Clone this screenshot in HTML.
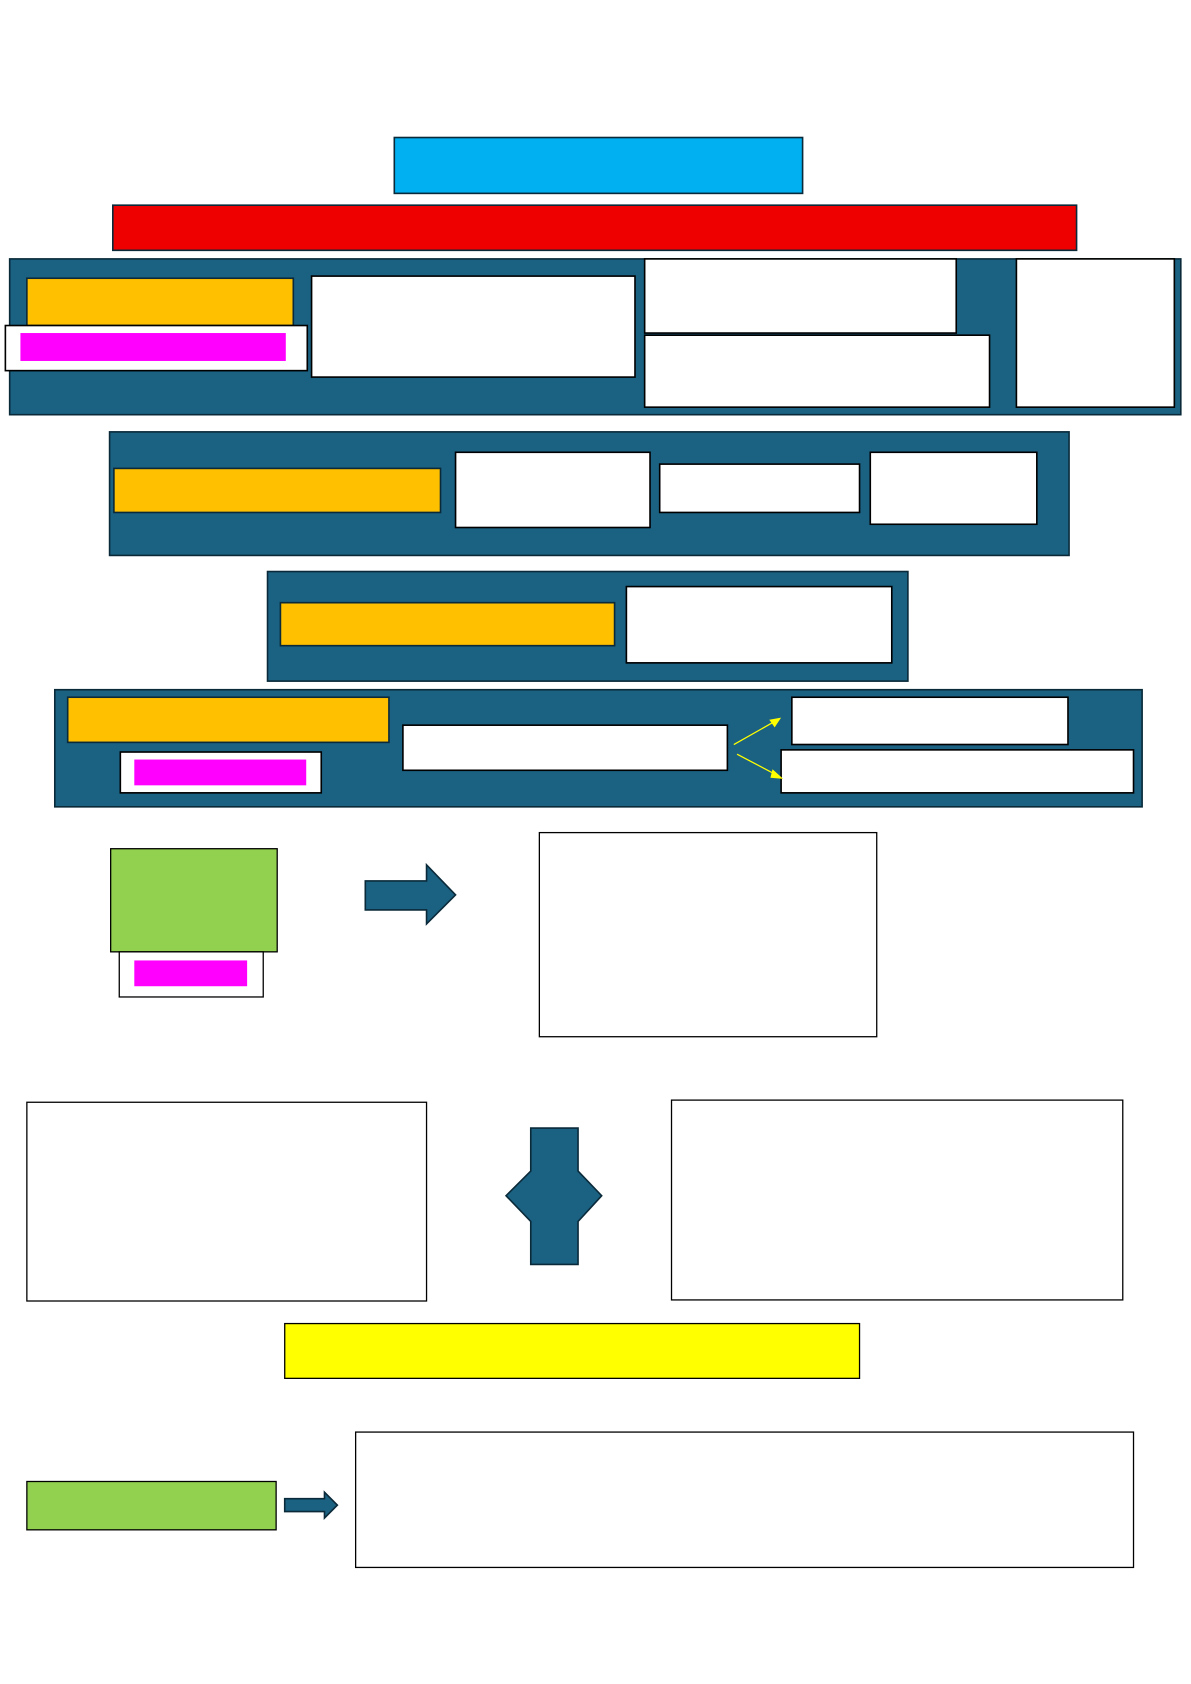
<!DOCTYPE html>
<html><head><style>html,body{margin:0;padding:0;background:#fff}svg{display:block}</style></head><body>
<svg width="1191" height="1684" viewBox="0 0 1108.5 1567.5" preserveAspectRatio="none" xmlns="http://www.w3.org/2000/svg">
<g stroke="#0a2a3a" stroke-width="1.5">
<rect x="367" y="128" width="380" height="52" fill="#00b0f0"/>
<rect x="105" y="191" width="897" height="42" fill="#ee0000"/>

<rect x="9" y="241" width="1090" height="145" fill="#1b6182"/>
<rect x="25" y="259" width="248" height="44" fill="#ffc000"/>
<rect x="5" y="303" width="281" height="42" fill="#fff" stroke="#000"/>
<rect x="19" y="310" width="247" height="26" fill="#ff00ff" stroke="none"/>
<rect x="290" y="257" width="301" height="94" fill="#fff" stroke="#000"/>
<rect x="600" y="241" width="290" height="69" fill="#fff" stroke="#000"/>
<rect x="600" y="312" width="321" height="67" fill="#fff" stroke="#000"/>
<rect x="946" y="241" width="147" height="138" fill="#fff" stroke="#000"/>

<rect x="102" y="402" width="893" height="115" fill="#1b6182"/>
<rect x="106" y="436" width="304" height="41" fill="#ffc000"/>
<rect x="424" y="421" width="181" height="70" fill="#fff" stroke="#000"/>
<rect x="614" y="432" width="186" height="45" fill="#fff" stroke="#000"/>
<rect x="810" y="421" width="155" height="67" fill="#fff" stroke="#000"/>

<rect x="249" y="532" width="596" height="102" fill="#1b6182"/>
<rect x="261" y="561" width="311" height="40" fill="#ffc000"/>
<rect x="583" y="546" width="247" height="71" fill="#fff" stroke="#000"/>

<rect x="51" y="642" width="1012" height="109" fill="#1b6182"/>
<rect x="63" y="649" width="299" height="42" fill="#ffc000"/>
<rect x="112" y="700" width="187" height="38" fill="#fff" stroke="#000"/>
<rect x="125" y="707" width="160" height="24" fill="#ff00ff" stroke="none"/>
<rect x="375" y="675" width="302" height="42" fill="#fff" stroke="#000"/>
<rect x="737" y="649" width="257" height="44" fill="#fff" stroke="#000"/>
<rect x="727" y="698" width="328" height="40" fill="#fff" stroke="#000"/>
</g>
<g stroke="#ffff00" stroke-width="1.2" fill="#ffff00">
<line x1="683" y1="693" x2="722" y2="671"/>
<polygon points="727,668 716,670 721,677" stroke="none"/>
<line x1="686" y1="702" x2="724" y2="722"/>
<polygon points="729,725 719,716 717,724" stroke="none"/>
</g>
<g stroke="#000" stroke-width="1.2">
<rect x="103" y="790" width="155" height="96" fill="#92d050"/>
<rect x="111" y="886" width="134" height="42" fill="#fff"/>
<rect x="125" y="894" width="105" height="24" fill="#ff00ff" stroke="none"/>
<rect x="502" y="775" width="314" height="190" fill="#fff"/>
<rect x="25" y="1026" width="372" height="185" fill="#fff"/>
<rect x="625" y="1024" width="420" height="186" fill="#fff"/>
<rect x="265" y="1232" width="535" height="51" fill="#ffff00"/>
<rect x="25" y="1379" width="232" height="45" fill="#92d050"/>
<rect x="331" y="1333" width="724" height="126" fill="#fff"/>
</g>
<g fill="#1b6182" stroke="#0a2a3a" stroke-width="1.5">
<polygon points="340,820 397,820 397,805 424,833 397,860 397,847 340,847"/>
<polygon points="494,1050 538,1050 538,1090 560,1113 538,1137 538,1177 494,1177 494,1137 471,1113 494,1090"/>
<polygon points="265,1395 302,1395 302,1389 314,1401 302,1413 302,1407 265,1407"/>
</g>
</svg>
</body></html>
